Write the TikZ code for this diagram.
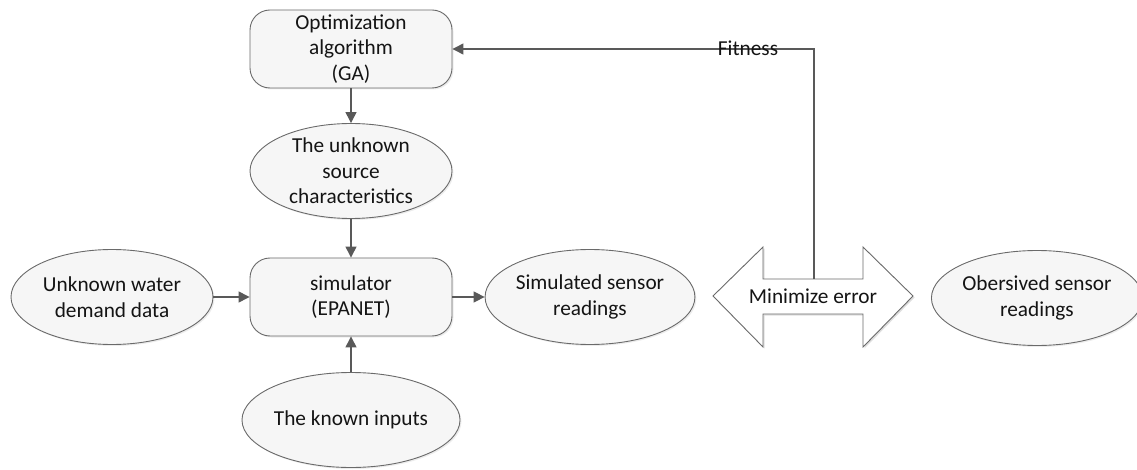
\documentclass[tikz,border=0pt]{standalone}
\usepackage{fontspec}
\setmainfont{Carlito}
\usetikzlibrary{shapes.geometric,arrows.meta,shadows}
\definecolor{shapefill}{HTML}{F6F6F6}
\definecolor{shapeline}{HTML}{6A6A6A}
\definecolor{linkline}{HTML}{595959}
\definecolor{txt}{HTML}{141414}
\begin{document}
\begin{tikzpicture}[x=1pt,y=-1pt,
  font=\fontsize{21.3}{25.5}\selectfont, text=txt,
  base/.style={draw=shapeline, line width=0.9pt, fill=shapefill, align=center, inner sep=0pt,
    drop shadow={opacity=0.15, shadow xshift=1.5pt, shadow yshift=-1.5pt}},
  procbox/.style={base, rectangle, rounded corners=20pt, minimum width=202pt, minimum height=78pt},
  databubble/.style={base, ellipse, minimum width=202pt, minimum height=95pt},
  link/.style={draw=linkline, line width=1.3pt, -{Triangle[width=11pt,length=11pt]}}]
\useasboundingbox (0,0) rectangle (1137,470);

% processing blocks
\node[procbox] (opt) at (351,49) {Optimization\\algorithm\\(GA)};
\node[procbox] (sim) at (351,297) {simulator\\(EPANET)};

% data bubbles
\node[databubble] (src) at (351,171) {The unknown\\source\\characteristics};
\node[databubble] (dem) at (112,297) {Unknown water\\demand data};
\node[databubble] (known) at (351,420) {The known inputs};
\node[databubble] (simr) at (590,297) {Simulated sensor\\readings};
\node[databubble, minimum width=199pt] (obs) at (1037,298) {Obersived sensor\\readings};

% double-headed comparison arrow
\fill[black, opacity=0.13]
  (714.5,297.5) -- (764.5,248.5) -- (764.5,280.5) -- (864.5,280.5) -- (864.5,248.5)
  -- (914.5,297.5) -- (864.5,348.5) -- (864.5,315.5) -- (764.5,315.5) -- (764.5,348.5) -- cycle;
\draw[draw=shapeline, line width=0.9pt, fill=white]
  (713,296) -- (763,247) -- (763,279) -- (863,279) -- (863,247)
  -- (913,296) -- (863,347) -- (863,314) -- (763,314) -- (763,347) -- cycle;
\node (cmp) at (813,296) {Minimize error};
\coordinate (fit) at (814,279);

% connectors
\draw[link] (opt) -- (src);
\draw[link] (src) -- (sim);
\draw[link] (dem) -- (sim);
\draw[link] (known) -- (sim);
\draw[link] (sim) -- (simr);
\draw[link] (fit) |- (opt.east);
\node (fitlbl) at (748,48) {Fitness};
\end{tikzpicture}
\end{document}
